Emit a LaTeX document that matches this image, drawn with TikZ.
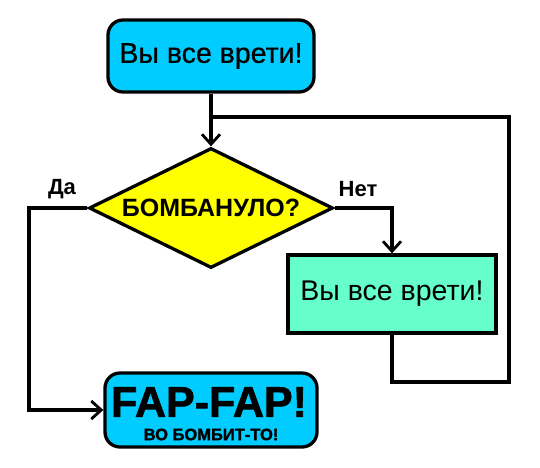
\documentclass[tikz,border=0pt]{standalone}
\usepackage{fontspec}
\setmainfont{Liberation Sans}
\newfontfamily\heavyfont{Liberation Sans}[BoldFeatures={FakeBold=1.6}]
\newfontfamily\medfont{Liberation Sans}[FakeBold=0.7]
\usetikzlibrary{shapes.geometric,arrows.meta}
\definecolor{cyanbox}{RGB}{0,204,255}
\definecolor{greenbox}{RGB}{102,255,204}
\definecolor{yellowbox}{RGB}{255,255,0}
\begin{document}
\begin{tikzpicture}[x=1pt,y=-1pt,
  line width=3.3pt,
  roundbox/.style={draw=black,fill=cyanbox,rounded corners=15pt,inner sep=0pt},
  plainbox/.style={draw=black,fill=greenbox,inner sep=0pt,minimum width=208pt,minimum height=78pt},
  decision/.style={draw=black,fill=yellowbox,diamond,aspect=2.03,inner sep=0pt,minimum width=244pt,minimum height=120pt},
  flow/.style={draw=black,-{Straight Barb[length=10pt,width=18pt,line width=2.8pt]}},
  lbl/.style={font=\bfseries\fontsize{22}{24}\selectfont},
  txt/.style={inner sep=0pt}
]
\useasboundingbox (0,0) rectangle (540,467);
\node[roundbox,minimum width=206pt,minimum height=72pt] (start) at (211,56)
  {\medfont\fontsize{28.5}{30}\selectfont Вы все врети!};
\node[decision] (dec) at (211,208) {\bfseries\fontsize{25}{26}\selectfont БОМБАНУЛО?};
\node[plainbox] (act) at (392,294) {\fontsize{28.5}{30}\selectfont Вы все врети!};
\node[roundbox,minimum width=212pt,minimum height=74pt] (fin) at (211,410) {};
\node[txt] (fap) at (209,402) {\heavyfont\bfseries\fontsize{43}{44}\selectfont FAP-FAP!};
\node[txt] (bomb) at (211,434.5) {\heavyfont\bfseries\fontsize{16.5}{17}\selectfont ВО БОМБИТ-ТО!};
\coordinate (join) at (211,117);
\coordinate (nr) at (392,208);
\coordinate (yl) at (29,208);
\coordinate (yb) at (29,410);
\coordinate (lb) at (392,382);
\coordinate (rb) at (509,382);
\coordinate (rt) at (509,117);
\draw[flow] (start.south) -- (dec.north);
\draw[flow] (dec.east) -- (nr) -- (act.north);
\draw[flow] (dec.west) -- (yl) -- (yb) -- (fin.west);
\draw (act.south) -- (lb) -- (rb) -- (rt) -- (join);
\node[lbl] (da) at (62,189) {Да};
\node[lbl] (net) at (358,189) {Нет};
\end{tikzpicture}
\end{document}
